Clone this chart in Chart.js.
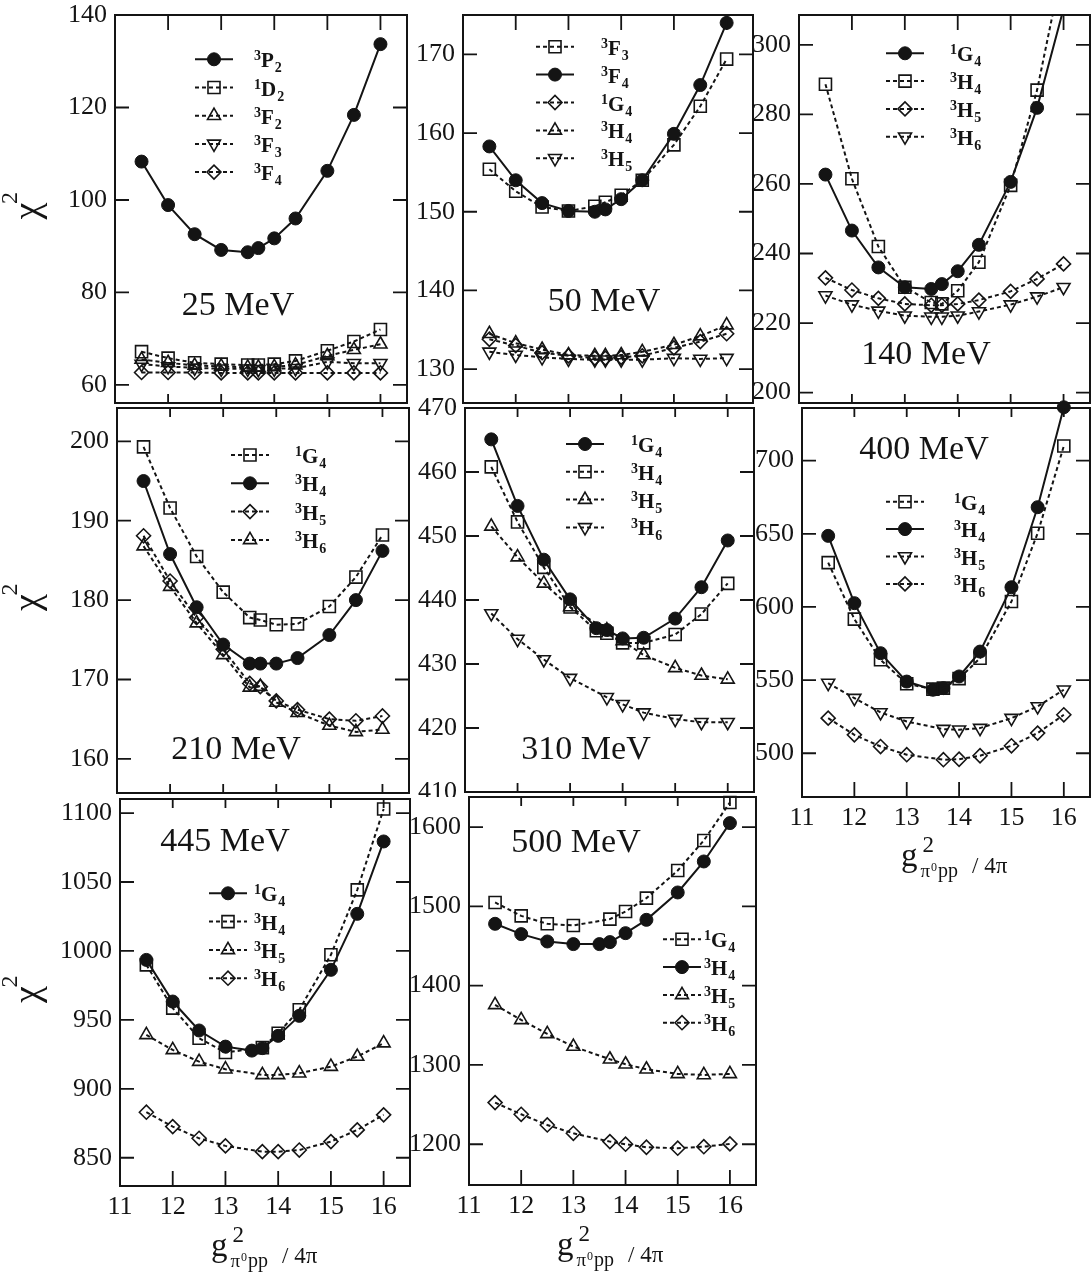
<!DOCTYPE html>
<html>
<head>
<meta charset="utf-8">
<script src="https://cdn.jsdelivr.net/npm/chart.js@4.4.0/dist/chart.umd.min.js"></script>
<style>
body { margin: 0; background: #fff; }
#page { position: relative; width: 1091px; height: 1275px; overflow: hidden; background: #fff; }
canvas { position: absolute; }
</style>
</head>
<body>
<div id="page"></div>
<script>
// g^2/4pi values of the scan
var gx = [11.5, 12, 12.5, 13, 13.5, 13.7, 14, 14.4, 15, 15.5, 16];
var xTicks = [11, 12, 13, 14, 15, 16];

// 25 MeV
var y25 = [60, 80, 100, 120, 140];
var e25_3P2 = [108.3, 98.9, 92.6, 89.2, 88.7, 89.6, 91.7, 96.0, 106.3, 118.4, 133.7];
var e25_1D2 = [67.2, 65.8, 64.8, 64.5, 64.3, 64.3, 64.5, 65.2, 67.4, 69.4, 72.0];
var e25_3F2 = [65.5, 64.8, 64.2, 64.0, 63.8, 63.8, 63.9, 64.3, 66.3, 67.6, 68.8];
var e25_3F3 = [64.5, 64.0, 63.7, 63.5, 63.5, 63.4, 63.5, 63.6, 65.0, 64.7, 64.7];
var e25_3F4 = [62.7, 62.7, 62.7, 62.6, 62.6, 62.6, 62.6, 62.6, 62.6, 62.6, 62.6];

// 50 MeV
var y50 = [130, 140, 150, 160, 170];
var e50_3F3 = [155.4, 152.6, 150.6, 150.1, 150.7, 151.2, 152.1, 154.0, 158.5, 163.4, 169.4];
var e50_3F4 = [158.3, 154.0, 151.1, 150.1, 150.0, 150.3, 151.6, 154.0, 159.9, 166.1, 174.0];
var e50_1G4 = [133.8, 133.0, 132.1, 131.7, 131.4, 131.4, 131.5, 131.7, 132.7, 133.5, 134.5];
var e50_3H4 = [134.5, 133.3, 132.5, 131.8, 131.7, 131.7, 131.8, 132.2, 133.1, 134.2, 135.6];
var e50_3H5 = [132.2, 131.8, 131.5, 131.3, 131.2, 131.2, 131.2, 131.2, 131.4, 131.3, 131.4];

// 140 MeV
var y140 = [200, 220, 240, 260, 280, 300];
var e140_1G4 = [262.7, 246.6, 236.0, 230.3, 229.8, 231.2, 234.9, 242.5, 260.6, 281.9, 310.4];
var e140_3H4 = [288.7, 261.5, 242.0, 230.3, 225.9, 225.5, 229.3, 237.5, 259.6, 287.0, 324.0];
var e140_3H5 = [233.0, 229.5, 227.1, 225.5, 225.1, 225.1, 225.5, 226.6, 229.1, 232.7, 237.0];
var e140_3H6 = [227.9, 225.3, 223.5, 222.1, 221.8, 221.8, 222.1, 223.3, 225.3, 227.6, 230.3];

// 210 MeV
var y210 = [160, 170, 180, 190, 200];
var e210_1G4 = [199.3, 191.6, 185.5, 181.0, 177.8, 177.5, 176.9, 177.0, 179.2, 182.9, 188.2];
var e210_3H4 = [195.0, 185.8, 179.1, 174.4, 172.0, 172.0, 172.0, 172.7, 175.6, 180.0, 186.2];
var e210_3H5 = [188.1, 182.4, 177.8, 173.8, 169.5, 169.1, 167.3, 166.2, 165.0, 164.8, 165.4];
var e210_3H6 = [186.8, 181.7, 177.1, 173.1, 169.0, 169.1, 167.1, 165.8, 164.2, 163.4, 163.7];

// 310 MeV
var y310 = [410, 420, 430, 440, 450, 460, 470];
var e310_1G4 = [465.1, 454.7, 446.3, 440.1, 435.6, 435.3, 434.0, 434.1, 437.1, 442.0, 449.3];
var e310_3H4 = [460.8, 452.2, 445.1, 438.9, 435.2, 434.8, 433.3, 433.3, 434.6, 437.8, 442.6];
var e310_3H5 = [451.5, 446.7, 442.6, 438.9, null, 435.3, 433.6, 431.4, 429.4, 428.2, 427.6];
var e310_3H6 = [437.9, 433.9, 430.7, 427.8, null, 424.8, 423.7, 422.4, 421.4, 420.9, 420.9];

// 400 MeV
var y400 = [500, 550, 600, 650, 700];
var e400_1G4 = [630.3, 591.7, 563.9, 547.5, 543.8, 544.5, 551.0, 565.0, 603.7, 650.4, 710.0];
var e400_3H4 = [648.6, 602.6, 568.4, 549.0, 543.4, 544.5, 552.5, 569.5, 613.5, 668.2, 736.5];
var e400_3H5 = [548.0, 537.7, 527.9, 521.7, null, 516.5, 516.1, 517.2, 524.0, 532.0, 543.4];
var e400_3H6 = [524.0, 512.6, 504.6, 499.0, null, 495.6, 495.9, 498.3, 505.1, 513.8, 526.3];

// 445 MeV
var y445 = [850, 900, 950, 1000, 1050, 1100];
var e445_1G4 = [993.5, 963.3, 942.3, 930.6, 927.7, 929.5, 938.4, 952.9, 986.3, 1026.9, 1079.4];
var e445_3H4 = [989.9, 958.5, 936.7, 926.3, null, 929.9, 940.3, 957.3, 997.2, 1044.3, 1102.9];
var e445_3H5 = [939.1, 928.2, 919.7, 914.2, null, 910.1, 910.1, 911.3, 916.1, 923.4, 933.1];
var e445_3H6 = [883.0, 872.6, 864.1, 858.6, null, 854.4, 854.4, 855.6, 861.7, 870.2, 881.1];

// 500 MeV
var y500 = [1200, 1300, 1400, 1500, 1600];
var e500_1G4 = [1504.9, 1488.0, 1478.0, 1475.9, null, 1483.9, 1493.5, 1510.4, 1545.2, 1583.1, 1631.0];
var e500_3H4 = [1478.0, 1465.0, 1455.7, 1452.4, 1452.4, 1454.9, 1466.2, 1483.0, 1517.5, 1556.6, 1605.0];
var e500_3H5 = [1375.8, 1356.8, 1339.2, 1323.2, null, 1307.2, 1300.9, 1294.6, 1288.7, 1287.4, 1288.7];
var e500_3H6 = [1252.5, 1237.8, 1224.3, 1213.8, null, 1203.3, 1200.0, 1196.2, 1195.0, 1196.9, 1200.4];

var SERIF = '"Liberation Serif", "Times New Roman", serif';
var INK = '#141414';

var marks = {
  circle:  { style: 'circle',   r: 6.5, rot: 0,   filled: true },
  square:  { style: 'rect',     r: 8.5, rot: 0,   filled: false },
  up:      { style: 'triangle', r: 7.5, rot: 0,   filled: false },
  down:    { style: 'triangle', r: 7.5, rot: 180, filled: false },
  diamond: { style: 'rectRot',  r: 7,   rot: 0,   filled: false }
};

// box = plot area in page pixels: left, top, right, bottom
var panels = [
  { name: '25 MeV', box: [115, 15, 407, 403], row: 0, col: 0, yr: [56.1, 140], yt: y25,
    sets: [['³P₂', e25_3P2, 'circle'], ['¹D₂', e25_1D2, 'square'], ['³F₂', e25_3F2, 'up'], ['³F₃', e25_3F3, 'down'], ['³F₄', e25_3F4, 'diamond']],
    leg: [214, 59.3, 28.2, 254], txt: [238, 306], tk: [15, 9], clip: 8 },
  { name: '50 MeV', box: [463, 15, 753, 403], row: 0, col: 1, yr: [125.7, 175], yt: y50,
    sets: [['³F₃', e50_3F3, 'square'], ['³F₄', e50_3F4, 'circle'], ['¹G₄', e50_1G4, 'diamond'], ['³H₄', e50_3H4, 'up'], ['³H₅', e50_3H5, 'down']],
    leg: [555, 46.7, 27.9, 601], txt: [604, 302], tk: [15, 9], clip: 8 },
  { name: '140 MeV', box: [799, 15, 1090, 403], row: 0, col: 2, yr: [197, 308.6], yt: y140,
    sets: [['¹G₄', e140_1G4, 'circle'], ['³H₄', e140_3H4, 'square'], ['³H₅', e140_3H5, 'diamond'], ['³H₆', e140_3H6, 'down']],
    leg: [905, 53.3, 27.8, 950], txt: [926, 355], tk: [15, 9], clip: 0 },
  { name: '210 MeV', box: [117, 408, 409, 793], row: 1, col: 0, yr: [155.7, 204.2], yt: y210,
    sets: [['¹G₄', e210_1G4, 'square'], ['³H₄', e210_3H4, 'circle'], ['³H₅', e210_3H5, 'diamond'], ['³H₆', e210_3H6, 'up']],
    leg: [250, 455, 28.3, 295], txt: [236, 750], tk: [9, 9], clip: 8 },
  { name: '310 MeV', box: [465, 408, 754, 792], row: 1, col: 1, yr: [410, 470], yt: y310,
    sets: [['¹G₄', e310_1G4, 'circle'], ['³H₄', e310_3H4, 'square'], ['³H₅', e310_3H5, 'up'], ['³H₆', e310_3H6, 'down']],
    leg: [585, 444, 27.8, 631], txt: [586, 750], tk: [9, 9], clip: 8 },
  { name: '400 MeV', box: [802, 408, 1090, 797], row: 1, col: 2, yr: [470.1, 736], yt: y400, xlab: true,
    sets: [['¹G₄', e400_1G4, 'square'], ['³H₄', e400_3H4, 'circle'], ['³H₅', e400_3H5, 'down'], ['³H₆', e400_3H6, 'diamond']],
    leg: [905, 501.7, 27.4, 954], txt: [924, 450], tk: [9, 15], clip: 10, title: [901, 866] },
  { name: '445 MeV', box: [120, 799, 410, 1186], row: 2, col: 0, yr: [829.5, 1110.2], yt: y445, xlab: true,
    sets: [['¹G₄', e445_1G4, 'circle'], ['³H₄', e445_3H4, 'square'], ['³H₅', e445_3H5, 'up'], ['³H₆', e445_3H6, 'diamond']],
    leg: [228, 893.3, 28.3, 254], txt: [225, 842], tk: [9, 15], clip: 8, title: [211, 1256] },
  { name: '500 MeV', box: [469, 797, 756, 1185], row: 2, col: 1, yr: [1148.6, 1637.9], yt: y500, xlab: true,
    sets: [['¹G₄', e500_1G4, 'square'], ['³H₄', e500_3H4, 'circle'], ['³H₅', e500_3H5, 'up'], ['³H₆', e500_3H6, 'diamond']],
    leg: [682, 939.3, 27.8, 704], txt: [576, 843], tk: [9, 15], clip: 8, title: [557, 1255] }
];

var supDigit = { '¹': '1', '²': '2', '³': '3' };
function subDigit(c) { return String.fromCharCode(c.charCodeAt(0) - 0x2080 + 48); }

function marker(ctx, m, x, y) {
  ctx.fillStyle = m.filled ? INK : 'rgba(0,0,0,0)';
  ctx.strokeStyle = INK;
  ctx.lineWidth = m.filled ? 1 : 1.6;
  ctx.setLineDash([]);
  var o = { pointStyle: m.style, radius: m.r, rotation: m.rot, borderWidth: ctx.lineWidth };
  if (Chart.helpers && Chart.helpers.drawPoint) {
    Chart.helpers.drawPoint(ctx, o, x, y);
  } else {
    ctx.beginPath(); ctx.arc(x, y, m.r, 0, Math.PI * 2); ctx.fill(); ctx.stroke();
  }
}

function drawLegend(ctx, p) {
  var cx = p.leg[0], y0 = p.leg[1], gap = p.leg[2], lx = p.leg[3];
  p.sets.forEach(function (s, i) {
    var y = y0 + i * gap, m = marks[s[2]];
    ctx.strokeStyle = INK; ctx.lineWidth = 2;
    ctx.setLineDash(m.filled ? [] : [4, 3]);
    ctx.beginPath(); ctx.moveTo(cx - 19, y); ctx.lineTo(cx + 19, y); ctx.stroke();
    marker(ctx, m, cx, y);
    var t = s[0];
    ctx.fillStyle = INK; ctx.textAlign = 'left'; ctx.textBaseline = 'alphabetic';
    ctx.font = 'bold 14px ' + SERIF;
    var sup = supDigit[t[0]];
    ctx.fillText(sup, lx, y + 1);
    var x = lx + ctx.measureText(sup).width;
    ctx.font = 'bold 21px ' + SERIF;
    ctx.fillText(t[1], x, y + 8);
    x += ctx.measureText(t[1]).width + 1;
    ctx.font = 'bold 14px ' + SERIF;
    ctx.fillText(subDigit(t[2]), x, y + 13);
  });
}

function drawXTitle(ctx, x, y) {
  ctx.fillStyle = INK; ctx.textAlign = 'left'; ctx.textBaseline = 'alphabetic';
  ctx.font = '33px ' + SERIF;
  ctx.fillText('g', x, y);
  var gw = ctx.measureText('g').width;
  ctx.font = '23px ' + SERIF;
  ctx.fillText('2', x + gw + 5, y - 14);
  var sx = x + gw + 3;
  ctx.font = '19px ' + SERIF;
  ctx.fillText('π', sx, y + 11);
  sx += ctx.measureText('π').width + 1;
  ctx.font = '12px ' + SERIF;
  ctx.fillText('0', sx, y + 5);
  sx += ctx.measureText('0').width + 1;
  ctx.font = '20px ' + SERIF;
  ctx.fillText('pp', sx, y + 11);
  ctx.font = '23px ' + SERIF;
  ctx.fillText('/ 4π', x + 71, y + 7);
}

// chi centred at (cx, cy), its superscript 2 up and to the left; both turned a quarter left
function drawChi(ctx, cx, cy) {
  ctx.fillStyle = INK; ctx.textAlign = 'center'; ctx.textBaseline = 'middle';
  ctx.save();
  ctx.translate(cx - 8, cy);
  ctx.rotate(-Math.PI / 2);
  ctx.font = '38px ' + SERIF;
  ctx.fillText('χ', 0, 0);
  ctx.restore();
  ctx.save();
  ctx.translate(cx - 26, cy - 13);
  ctx.rotate(-Math.PI / 2);
  ctx.font = '24px ' + SERIF;
  ctx.fillText('2', 0, 0);
  ctx.restore();
}

function framePlugin(p, ox, oy) {
  return {
    id: 'frame' + p.name.replace(' ', ''),
    afterDraw: function (chart) {
      var ctx = chart.ctx, a = chart.chartArea, xs = chart.scales.x, ys = chart.scales.y;
      ctx.save();
      ctx.strokeStyle = INK; ctx.setLineDash([]);
      ctx.lineWidth = 2;
      ctx.strokeRect(a.left, a.top, a.right - a.left, a.bottom - a.top);
      ctx.lineWidth = 1.8;
      ctx.beginPath();
      p.yt.forEach(function (v) {
        var y = ys.getPixelForValue(v);
        if (y < a.top - 1 || y > a.bottom + 1) return;
        ctx.moveTo(a.left, y); ctx.lineTo(a.left + 14, y);
        ctx.moveTo(a.right, y); ctx.lineTo(a.right - 14, y);
      });
      xTicks.forEach(function (v) {
        var x = xs.getPixelForValue(v);
        if (x <= a.left + 1 || x >= a.right - 1) return;
        ctx.moveTo(x, a.top); ctx.lineTo(x, a.top + p.tk[0]);
        ctx.moveTo(x, a.bottom); ctx.lineTo(x, a.bottom - p.tk[1]);
      });
      ctx.stroke();

      ctx.translate(-ox, -oy);
      ctx.fillStyle = INK;
      ctx.font = '34px ' + SERIF;
      ctx.textAlign = 'center'; ctx.textBaseline = 'middle';
      ctx.fillText(p.name, p.txt[0], p.txt[1]);
      drawLegend(ctx, p);
      if (p.title) drawXTitle(ctx, p.title[0], p.title[1]);
      if (p.col === 0) drawChi(ctx, 37, (p.box[1] + p.box[3]) / 2 + 2);
      ctx.restore();
    }
  };
}

Chart.defaults.font.family = SERIF;
Chart.defaults.color = INK;

function plainLabel(v) { return String(v); }

var page = document.getElementById('page');
panels.forEach(function (p) {
  var b = p.box;
  var padL = p.col === 0 ? b[0] : 62;
  var padT = p.row === 0 ? b[1] : 16;
  var padR = p.col === 2 ? 1091 - b[2] : 5;
  var padB = p.xlab ? Math.min(1275 - b[3], 100) : 5;
  var ox = b[0] - padL, oy = b[1] - padT;
  var w = b[2] - b[0] + padL + padR, h = b[3] - b[1] + padT + padB;
  var cv = document.createElement('canvas');
  cv.width = w; cv.height = h;
  cv.style.left = ox + 'px'; cv.style.top = oy + 'px';
  cv.style.width = w + 'px'; cv.style.height = h + 'px';
  page.appendChild(cv);

  var datasets = p.sets.map(function (s) {
    var m = marks[s[2]];
    return {
      label: s[0],
      data: gx.map(function (x, i) { return { x: x, y: s[1][i] }; }),
      borderColor: INK,
      borderWidth: 2,
      borderDash: m.filled ? [] : [4, 3],
      pointStyle: m.style,
      pointRadius: m.r,
      pointHoverRadius: m.r,
      pointRotation: m.rot,
      pointBackgroundColor: m.filled ? INK : 'rgba(0,0,0,0)',
      pointBorderColor: INK,
      pointBorderWidth: m.filled ? 1 : 1.6,
      spanGaps: true,
      tension: 0,
      fill: false,
      clip: p.clip
    };
  });

  new Chart(cv.getContext('2d'), {
    type: 'line',
    data: { datasets: datasets },
    options: {
      responsive: false,
      animation: false,
      devicePixelRatio: 1,
      layout: { autoPadding: false, padding: { top: padT, right: padR, left: 0, bottom: 0 } },
      plugins: { legend: { display: false }, tooltip: { enabled: false } },
      scales: {
        x: {
          type: 'linear', min: 11, max: 16.5,
          grid: { display: false, drawTicks: false },
          border: { display: false },
          afterBuildTicks: function (s) { s.ticks = xTicks.map(function (v) { return { value: v }; }); },
          afterFit: function (s) { s.height = padB; s.paddingLeft = 0; s.paddingRight = 0; },
          ticks: { display: !!p.xlab, autoSkip: false, maxRotation: 0, padding: 6, font: { size: 26 }, color: INK, callback: plainLabel }
        },
        y: {
          type: 'linear', min: p.yr[0], max: p.yr[1],
          grid: { display: false, drawTicks: false },
          border: { display: false },
          afterBuildTicks: function (s) { s.ticks = p.yt.map(function (v) { return { value: v }; }); },
          afterFit: function (s) { s.width = padL; s.paddingTop = 0; s.paddingBottom = 0; },
          ticks: { padding: 8, font: { size: 26 }, color: INK, callback: plainLabel }
        }
      }
    },
    plugins: [framePlugin(p, ox, oy)]
  });
});
</script>
</body>
</html>
